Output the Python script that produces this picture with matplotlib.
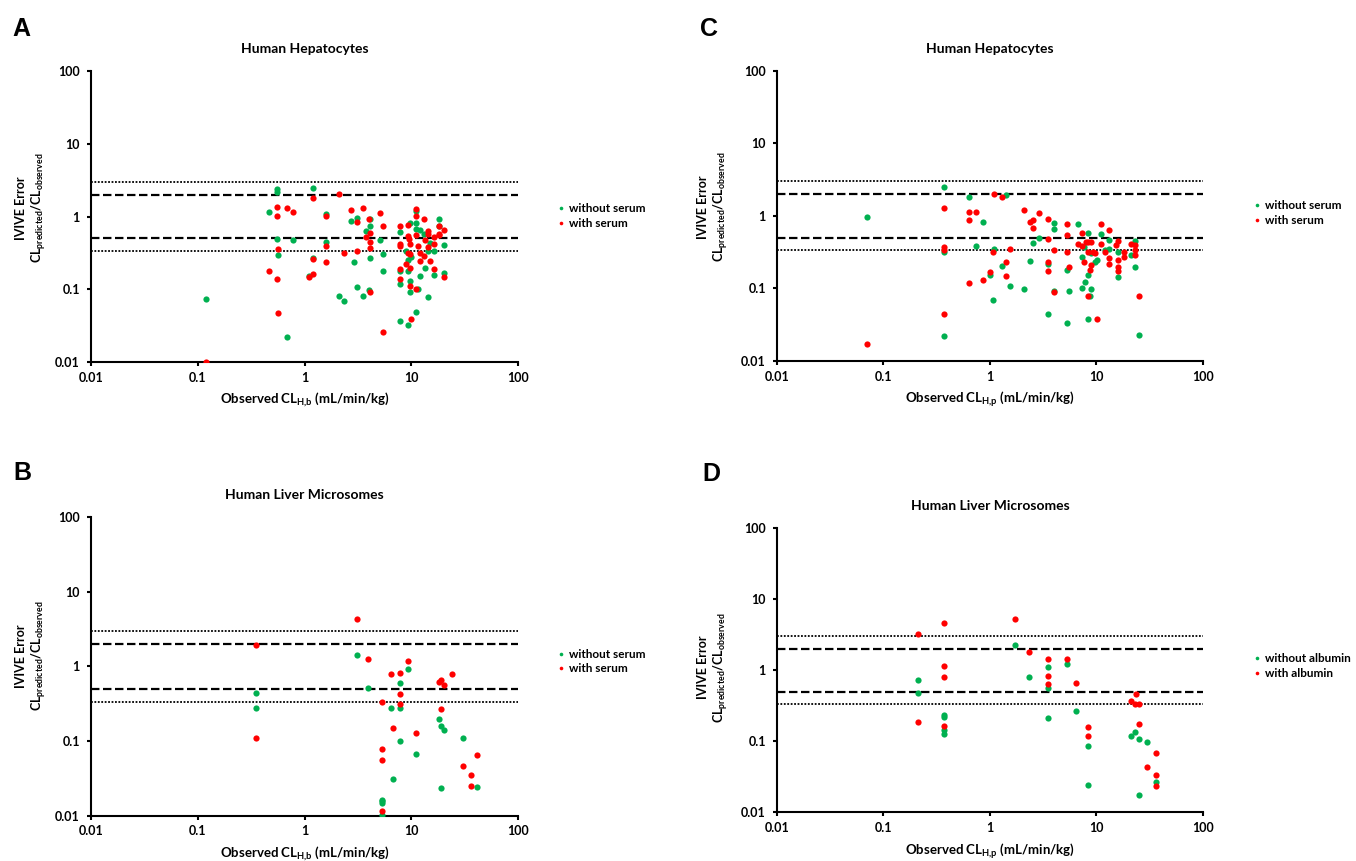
import matplotlib
matplotlib.use("Agg")
import matplotlib.pyplot as plt
from matplotlib.lines import Line2D
from matplotlib.ticker import FixedLocator, FixedFormatter, NullLocator

plt.rcParams["font.family"] = ["Lato", "DejaVu Sans"]
plt.rcParams["font.weight"] = "bold"
plt.rcParams["mathtext.fontset"] = "custom"
plt.rcParams["mathtext.rm"] = "Lato:bold"
plt.rcParams["mathtext.it"] = "Lato:bold"
plt.rcParams["mathtext.bf"] = "Lato:bold"

GREEN = "#00B050"
RED = "#FF0000"

TICKS = [0.01, 0.1, 1, 10, 100]
TICK_LABELS = ["0.01", "0.1", "1", "10", "100"]

# Panel A: hepatocytes, blood clearance
a_without_x = [0.12, 0.55, 0.55, 0.47, 0.55, 0.57, 0.68, 0.78, 1.2, 1.2, 1.1, 1.6, 1.6, 2.1,
               2.32, 2.7, 2.9, 3.1, 3.1, 3.5, 3.73, 4.1, 4.1, 4.1, 4.0, 5.05, 5.4, 5.4, 7.8,
               7.8, 7.8, 7.8, 9.8, 9.3, 9.3, 9.0, 10, 9.8, 9.8, 9.3, 11.1, 11.1, 11.1, 12.1,
               13.1, 12.1, 11.6, 11.1, 14.2, 13.5, 14.2, 15.1, 16.2, 16.2, 18.3, 18.3, 20.4, 20.4]
a_without_y = [0.075, 2.2, 2.35, 1.17, 0.49, 0.30, 0.022, 0.47, 2.44, 0.27, 0.155, 1.09, 0.45,
               0.082, 0.069, 0.88, 0.24, 0.96, 0.109, 0.080, 0.64, 0.91, 0.74, 0.27, 0.097,
               0.48, 0.305, 0.177, 0.62, 0.18, 0.117, 0.037, 0.81, 0.178, 0.25, 0.335, 0.277,
               0.129, 0.092, 0.033, 1.18, 0.81, 0.68, 0.66, 0.58, 0.151, 0.102, 0.049, 0.34,
               0.198, 0.078, 0.43, 0.335, 0.159, 0.91, 0.74, 0.41, 0.169]
a_with_x = [0.12, 0.47, 0.55, 0.55, 0.57, 0.55, 0.57, 0.68, 0.78, 1.2, 1.2, 1.2, 1.1, 1.6, 1.6,
            1.6, 2.1, 2.32, 2.7, 3.1, 3.1, 3.5, 3.73, 4.1, 4.1, 4.1, 4.1, 4.0, 5.05, 5.4, 5.4,
            7.8, 7.8, 7.8, 7.8, 7.8, 9.3, 9.3, 9.6, 9.8, 9.3, 9.8, 9.0, 9.8, 9.8, 10, 11.1,
            11.1, 11.1, 11.1, 11.6, 12.1, 12.1, 13.1, 13.1, 14.2, 14.2, 13.5, 14.2, 15.1,
            16.2, 16.2, 16.2, 18.3, 18.3, 18.3, 20.4, 20.4]
a_with_y = [0.01, 0.18, 1.34, 1.03, 0.36, 0.137, 0.048, 1.3, 1.17, 1.8, 0.26, 0.162, 0.15,
            1.02, 0.40, 0.234, 2.04, 0.32, 1.21, 0.85, 0.34, 1.31, 0.52, 0.59, 0.45, 0.37,
            0.092, 0.92, 1.12, 0.75, 0.026, 0.75, 0.42, 0.40, 0.19, 0.14, 0.76, 0.54, 0.49,
            0.42, 0.32, 0.31, 0.225, 0.196, 0.112, 0.039, 1.25, 1.02, 0.55, 0.102, 0.39, 0.32,
            0.247, 0.91, 0.286, 0.64, 0.58, 0.47, 0.38, 0.245, 0.52, 0.42, 0.188, 0.74, 0.58,
            0.56, 0.66, 0.148]

# Panel B: microsomes, blood clearance
b_without_x = [0.35, 0.35, 3.12, 3.9, 5.35, 5.35, 5.35, 5.35, 6.45, 6.8, 7.8, 7.8, 7.8, 9.3,
               11.1, 18.2, 19.2, 20.2, 19.2, 30.5, 41.3]
b_without_y = [0.435, 0.277, 1.43, 0.51, 0.0164, 0.0157, 0.0149, 0.0101, 0.28, 0.031, 0.59,
               0.28, 0.10, 0.92, 0.068, 0.197, 0.159, 0.139, 0.0237, 0.11, 0.0242]
b_with_x = [0.35, 0.35, 3.12, 3.9, 5.35, 5.35, 5.35, 5.35, 6.45, 6.8, 7.8, 7.8, 7.8, 9.3, 11.1,
            18.2, 19.2, 20.2, 19.2, 23.9, 30.5, 36.5, 36.5, 41.3]
b_with_y = [1.93, 0.111, 4.35, 1.27, 0.333, 0.079, 0.056, 0.0115, 0.79, 0.149, 0.81, 0.43,
            0.31, 1.18, 0.129, 0.62, 0.66, 0.56, 0.27, 0.79, 0.046, 0.0354, 0.0247, 0.0656]

# Panel C: hepatocytes, plasma clearance
c_without_x = [0.0697, 0.372, 0.372, 0.372, 0.64, 0.74, 0.86, 1.0, 1.06, 1.1, 1.31, 1.40,
               1.53, 2.1, 2.38, 2.52, 2.91, 3.51, 3.51, 4.0, 4.0, 4.0, 5.3, 5.3, 5.57, 6.67,
               7.27, 7.27, 7.8, 8.4, 8.4, 8.4, 8.65, 8.9, 8.9, 9.6, 10.1, 11.0, 11.9, 13.0,
               13.0, 16.0, 16.0, 20.9, 23.0, 23.0, 25.0, 7.7]
c_without_y = [0.97, 2.46, 0.32, 0.0222, 1.81, 0.38, 0.82, 0.153, 0.069, 0.353, 0.201, 1.95,
               0.109, 0.097, 0.239, 0.42, 0.49, 0.219, 0.045, 0.79, 0.65, 0.093, 0.179, 0.033,
               0.092, 0.76, 0.274, 0.101, 0.121, 0.58, 0.151, 0.0385, 0.078, 0.097, 0.31,
               0.231, 0.249, 0.56, 0.339, 0.47, 0.35, 0.32, 0.145, 0.292, 0.45, 0.195, 0.0231,
               0.37]
c_with_x = [0.0697, 0.372, 0.372, 0.372, 0.372, 0.64, 0.64, 0.64, 0.74, 0.86, 1.0, 1.06, 1.1,
            1.31, 1.40, 1.40, 1.53, 2.1, 2.38, 2.52, 2.52, 2.91, 3.51, 3.51, 3.51, 3.51, 4.0,
            4.0, 5.3, 5.3, 5.3, 5.57, 6.67, 7.27, 7.27, 7.7, 7.9, 8.4, 8.4, 8.4, 8.65, 8.9,
            8.9, 9.2, 9.6, 10.1, 11.0, 11.0, 11.9, 13.0, 13.0, 13.0, 15.1, 16.0, 16.0, 16.0,
            16.0, 18.1, 18.1, 20.9, 23.0, 23.0, 23.0, 25.0]
c_with_y = [0.0172, 1.30, 0.377, 0.342, 0.0446, 1.13, 0.87, 0.119, 1.12, 0.129, 0.168, 0.32,
            1.99, 1.79, 0.229, 0.147, 0.346, 1.21, 0.83, 0.87, 0.69, 1.11, 0.91, 0.475,
            0.231, 0.172, 0.343, 0.089, 0.77, 0.54, 0.321, 0.197, 0.41, 0.58, 0.385, 0.234,
            0.43, 0.43, 0.32, 0.079, 0.179, 0.437, 0.21, 0.32, 0.31, 0.0385, 0.78, 0.41, 0.32,
            0.63, 0.26, 0.22, 0.40, 0.456, 0.249, 0.197, 0.172, 0.32, 0.27, 0.41, 0.40, 0.335,
            0.29, 0.079]

# Panel D: microsomes, plasma clearance
d_without_x = [0.21, 0.21, 0.372, 0.372, 0.372, 0.372, 1.71, 2.33, 3.51, 3.51, 3.51, 5.3, 6.4,
               8.4, 8.4, 21, 22.9, 25, 25, 29.9, 35.9]
d_without_y = [0.72, 0.47, 0.235, 0.216, 0.144, 0.126, 2.25, 0.80, 1.10, 0.57, 0.213, 1.21,
               0.262, 0.087, 0.0245, 0.12, 0.137, 0.108, 0.0175, 0.097, 0.0267]
d_with_x = [0.21, 0.21, 0.372, 0.372, 0.372, 0.372, 1.71, 2.33, 3.51, 3.51, 3.51, 5.3, 6.4,
            8.4, 8.4, 21, 23.6, 22.9, 25, 25, 29.9, 35.9, 35.9, 35.9]
d_with_y = [3.18, 0.185, 4.54, 1.13, 0.80, 0.164, 5.23, 1.79, 1.44, 0.84, 0.63, 1.44, 0.66,
            0.161, 0.117, 0.374, 0.46, 0.336, 0.336, 0.172, 0.044, 0.0678, 0.0336, 0.0235]

serum_labels = ["without serum", "with serum"]
albumin_labels = ["without albumin", "with albumin"]

W, H = 1356, 861
fig = plt.figure(figsize=(W / 100, H / 100), dpi=100)


def draw_panel(box, title, sub, without, with_, labels, leg_x, leg_y, ylab_x, ylab_y):
    x0, x1, top, bottom = box
    ax = fig.add_axes([x0 / W, 1 - bottom / H, (x1 - x0) / W, (bottom - top) / H])
    ax.scatter(without[0], without[1], s=20, color=GREEN, lw=0, zorder=3)
    ax.scatter(with_[0], with_[1], s=20, color=RED, lw=0, zorder=4)
    ax.set_xscale("log")
    ax.set_yscale("log")
    ax.set_xlim(0.01, 100)
    ax.set_ylim(0.01, 100)
    # 2-fold (dashed) and 3-fold (dotted) bounds
    for val, ls, lw in [(3, (0, (1, 0.9)), 1.3), (1 / 3, (0, (1, 0.9)), 1.3),
                        (2, (0, (3.8, 1.6)), 1.6), (0.5, (0, (3.8, 1.6)), 1.6)]:
        ax.axhline(val, color="black", ls=ls, lw=lw, zorder=2)
    for axis in (ax.xaxis, ax.yaxis):
        axis.set_major_locator(FixedLocator(TICKS))
        axis.set_major_formatter(FixedFormatter(TICK_LABELS))
        axis.set_minor_locator(NullLocator())
    ax.tick_params(axis="both", length=3, width=1.5, labelsize=9)
    ax.tick_params(axis="y", pad=5)
    ax.tick_params(axis="x", pad=4)
    for s in ("top", "right"):
        ax.spines[s].set_visible(False)
    for s in ("left", "bottom"):
        ax.spines[s].set_linewidth(1.5)
    ax.set_title(title, fontsize=10, fontweight="bold", pad=13)
    ax.set_xlabel(r"Observed CL$_{\mathrm{%s}}$ (mL/min/kg)" % sub, fontsize=9.5,
                  fontweight="bold", labelpad=5)
    ax.set_ylabel("IVIVE Error\n" r"CL$_{\mathrm{predicted}}$/CL$_{\mathrm{observed}}$",
                  fontsize=9, fontweight="bold", va="center", linespacing=1.15)
    ax.yaxis.set_label_coords(ylab_x, ylab_y)
    handles = [Line2D([], [], ls="none", marker="o", ms=2.6, color=GREEN, mew=0),
               Line2D([], [], ls="none", marker="o", ms=2.6, color=RED, mew=0)]
    ax.legend(handles, labels, loc="center left", bbox_to_anchor=(leg_x, leg_y),
              frameon=False, fontsize=8.5, handlelength=0.5, handletextpad=0.4,
              labelspacing=0.3, borderpad=0, borderaxespad=0)
    return ax


draw_panel([91, 518, 70.7, 362.3], "Human Hepatocytes", "H{,}b",
           (a_without_x, a_without_y), (a_with_x, a_with_y), serum_labels,
           1.094, 0.502, -0.139, 0.529)
draw_panel([91, 518, 517, 815.7], "Human Liver Microsomes", "H{,}b",
           (b_without_x, b_without_y), (b_with_x, b_with_y), serum_labels,
           1.094, 0.516, -0.139, 0.535)
draw_panel([777, 1203, 70.7, 361], "Human Hepatocytes", "H{,}p",
           (c_without_x, c_without_y), (c_with_x, c_with_y), serum_labels,
           1.12, 0.51, -0.149, 0.53)
draw_panel([777, 1203, 528, 812.3], "Human Liver Microsomes", "H{,}p",
           (d_without_x, d_without_y), (d_with_x, d_with_y), albumin_labels,
           1.12, 0.514, -0.149, 0.51)

for letter, px, py in [("A", 12, 29), ("B", 13, 473), ("C", 700, 29), ("D", 702, 474)]:
    fig.text(px / W, 1 - py / H, letter, fontsize=18, fontweight="bold",
             family=["Liberation Sans", "DejaVu Sans"], ha="left", va="center")

fig.savefig("out.png", dpi=100)
